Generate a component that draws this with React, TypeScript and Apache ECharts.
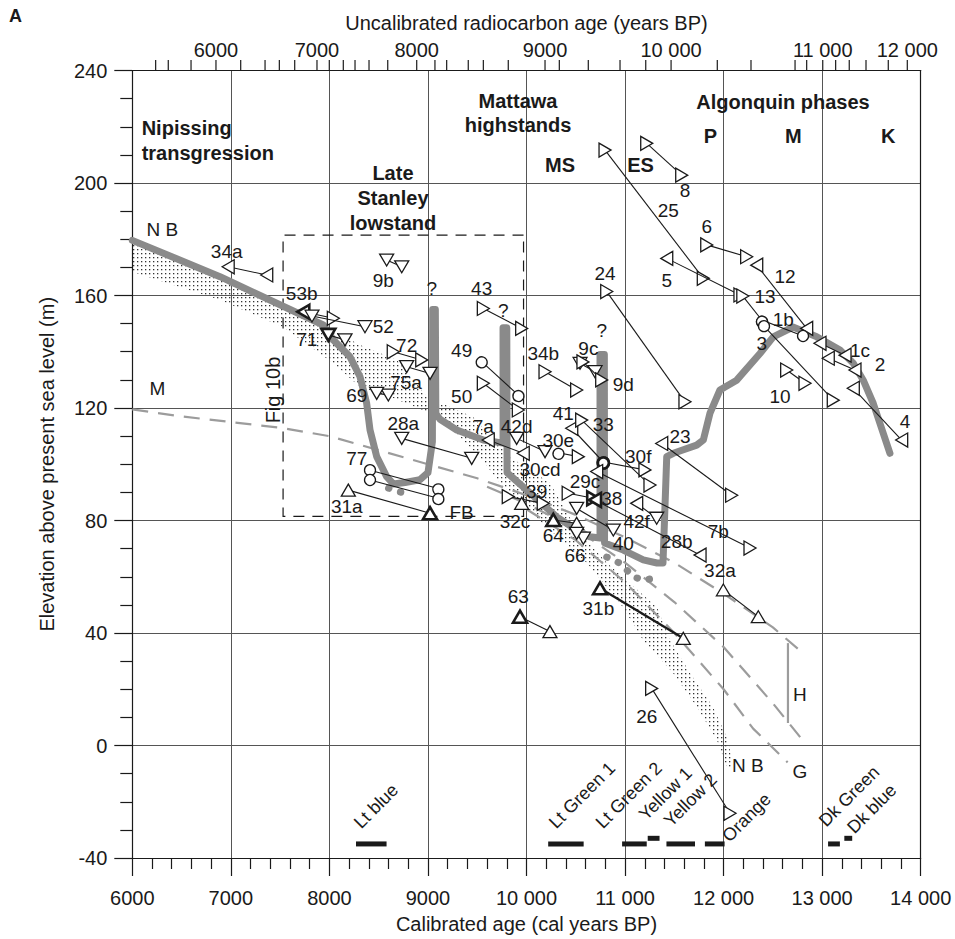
import React, { useEffect, useRef } from "react";
import * as echarts from "echarts";

const FONT = "'Liberation Sans', Arial, Helvetica, sans-serif";
const INK = "#1a1a1a";

// ---- lake level curve (cal yr BP, elevation m)
const lakeCurve: number[][] = [
  [6000, 179.6], [6890, 166.7], [7938, 149.5], [8040, 144.2], [8209, 138.2], [8311, 131.1],
  [8378, 121.7], [8412, 112.2], [8480, 102.7], [8581, 95.6], [8648, 93], [8768, 93.5],
  [8919, 94.5], [9000, 97], [9045, 108], [9048, 155], [9075, 155], [9080, 118],
  [9122, 116], [9292, 112.2], [9562, 108.6], [9762, 107.5], [9762, 148.5], [9800, 148.5],
  [9803, 97], [10035, 89.8], [10306, 81.3], [10509, 76.6], [10644, 74.2], [10746, 73.8],
  [10746, 139], [10790, 139], [10792, 72], [10982, 69.5], [11185, 66], [11324, 64.9],
  [11385, 64.9], [11423, 102.7], [11490, 103.9], [11727, 106.8], [11794, 108.6], [11862, 118.2],
  [11963, 126.4], [12133, 129.9], [12369, 139.4], [12504, 145.3], [12704, 148.8], [12945, 145.3],
  [13181, 140.6], [13316, 135.9], [13417, 129.9], [13519, 121.6], [13688, 103.9],
];
const lowstandDotsA: number[][] = [[8600, 91.5], [8700, 90.2], [8830, 89.5]];
const lowstandDotsB: number[][] = [[10814, 67], [10949, 64.8], [11084, 60], [11185, 58.8], [11287, 59.4]];

// ---- dashed gray curves
const dashedM: number[][] = [
  [6000, 119.5], [6500, 117], [7000, 115], [7500, 113], [8000, 110], [8500, 105], [9000, 100],
  [9500, 95], [10000, 89], [10500, 82], [11000, 74], [11500, 65], [12000, 54], [12500, 42], [12800, 33],
];
const dashedMid: number[][] = [
  [9600, 92], [10000, 86], [10500, 77], [11000, 65], [11500, 51], [12000, 35], [12500, 15], [12800, 2],
];
const dashedG: number[][] = [
  [10000, 84], [10500, 73], [11000, 58], [11500, 40], [12000, 20], [12300, 6], [12650, -6],
];
const lineH: number[][] = [[12653, 36.4], [12653, 8]];

// ---- stippled NB band
const bandUpper: number[][] = [
  [6007, 179.0], [6890, 165.9], [7529, 155.6], [7935, 149.5], [8311, 142.4], [8686, 137.1],
  [8990, 124], [9457, 116.8], [9832, 102.6], [10238, 93.3], [10512, 76.6], [10817, 64.9],
  [11324, 49.2], [11456, 37.5], [11659, 25.8], [11892, 13.7], [12045, 2.0], [12095, -7.6],
];
const bandLower: number[][] = [
  [12034, -7.6], [11932, 2.0], [11730, 13.7], [11487, 25.8], [11182, 37.5], [10979, 49.2],
  [10614, 64.9], [10238, 76.6], [9731, 93.3], [9528, 102.6], [9122, 116.8], [8615, 124],
  [8311, 127.5], [8037, 136], [7529, 148.8], [6890, 158.4], [6007, 168.4],
];

// ---- Fig 10b box [x1, y1, x2, y2]
const figBox = [7530, 81.5, 9970, 181.5];

// ---- dated samples: name, x1, y1, sym1, x2, y2, sym2, thick
const samples: any[][] = [
  ["34a", 6973, 170.2, "L", 7364, 167.3, "L"],
  ["53b", 7735, 154.2, "Lb", 8040, 151.9, "R"],
  ["52", 7823, 152.7, "D", 8361, 148.9, "D"],
  ["71", 7989, 146, "Db", 8158, 144.2, "D"],
  ["9b", 8581, 172.6, "D", 8734, 170.2, "D"],
  ["72", 8648, 140, "R", 8937, 137.1, "R"],
  ["75a", 8784, 134.7, "D", 9021, 132.3, "D"],
  ["69", 8480, 125.2, "D", 8598, 124.6, "D"],
  ["77a", 8412, 97.9, "C", 9105, 91.4, "C"],
  ["77b", 8412, 94.4, "C", 9105, 87.9, "C"],
  ["31a", 8192, 90.8, "U", 9021, 82.6, "Ub"],
  ["28a", 8734, 109.2, "D", 9444, 102.1, "D"],
  ["43", 9562, 155.4, "R", 9951, 148.3, "R"],
  ["49", 9545, 136.5, "C", 9917, 124.6, "C"],
  ["50", 9562, 128.8, "R", 9917, 119.3, "R"],
  ["7a", 9612, 108.6, "L", 9967, 103.9, "L"],
  ["42d", 9900, 109.2, "D", 10188, 104.5, "D"],
  ["30e", 10323, 104.1, "C", 10526, 102.7, "R"],
  ["41", 10459, 112.8, "L", 10779, 100.8, "Cb"],
  ["30f", 10779, 100.8, "Cb", 11202, 98, "R"],
  ["33", 10560, 115.7, "R", 11253, 92.6, "R"],
  ["7b", 10712, 97.4, "L", 12268, 70.2, "R"],
  ["39", 9815, 88.5, "R", 10170, 86.1, "R"],
  ["32c", 9951, 86.1, "U", null, null, null],
  ["29c", 10423, 89.7, "R", 10677, 87.9, "Rb"],
  ["28b", 10695, 87.3, "Lb", 11761, 67.7, "L"],
  ["42f", 11118, 86.1, "L", 11321, 80.8, "D"],
  ["40", 10509, 84.3, "D", 10881, 76.6, "D"],
  ["64", 10272, 80.2, "Ub", 10509, 79, "U"],
  ["66", 10509, 75.4, "D", 10577, 73.7, "D"],
  ["63", 9934, 45.8, "Ub", 10238, 40.5, "U"],
  ["31b", 10746, 55.9, "Ub", 11591, 38.1, "U", 1],
  ["26", 11270, 20.3, "R", 12065, -24.1, "R"],
  ["34b", 10188, 132.9, "R", 10509, 126.4, "R"],
  ["9c", 10543, 135.9, "D", 10695, 132.9, "D"],
  ["9d", 10573, 136.4, "R", 10763, 130, "R"],
  ["24", 10814, 161.4, "R", 11608, 122.2, "R"],
  ["25", 10797, 211.7, "R", 11794, 166.1, "R"],
  ["8", 11220, 214.1, "R", 11575, 202.8, "R"],
  ["6", 11829, 178, "R", 12234, 173.8, "R"],
  ["12", 12336, 170.8, "L", 12843, 148.3, "L"],
  ["5", 11423, 173.2, "L", 12166, 160.2, "R"],
  ["13", 12195, 159.8, "R", 12387, 151.3, "C"],
  ["1b", 12387, 151.3, "C", 12806, 145.6, "C"],
  ["3", 12410, 149.1, "C", 13113, 122.8, "R"],
  ["1c", 12978, 143, "L", 13232, 138.8, "L"],
  ["2", 13062, 137.7, "L", 13333, 133.5, "L"],
  ["10", 12640, 133.5, "R", 12826, 128.8, "R"],
  ["4", 13316, 127, "L", 13807, 108.6, "L"],
  ["23", 11372, 107.4, "L", 12082, 89, "R"],
  ["32a", 11997, 55.3, "U", 12352, 45.8, "U"],
];

// ---- sample number labels [x, y, text]
const sampleLabels: any[][] = [
  [6958, 175.6, "34a"], [7719, 160.8, "53b"], [8547, 148.9, "52"], [7770, 144.2, "71"],
  [8547, 165.5, "9b"], [8784, 142.4, "72"], [8777, 128.9, "75a"], [8277, 124.6, "69"],
  [8277, 102.1, "77"], [8176, 84.9, "31a"], [9342, 82.8, "FB"], [8750, 114.6, "28a"],
  [9545, 162.6, "43"], [9342, 140.6, "49"], [9342, 124, "50"], [9562, 113.3, "7a"],
  [9900, 113.3, "42d"], [10323, 108.6, "30e"], [11134, 102.7, "30f"], [10779, 114, "33"],
  [10374, 118.1, "41"], [10137, 98.2, "30cd"], [10103, 90.4, "39"], [9883, 79.6, "32c"],
  [10594, 93.7, "29c"], [10865, 87.9, "38"], [11118, 79.6, "42f"], [10982, 71.9, "40"],
  [10272, 74.8, "64"], [10492, 67.7, "66"], [9917, 52.9, "63"], [10729, 48.8, "31b"],
  [11220, 10.2, "26"], [10170, 139.4, "34b"], [10628, 141.2, "9c"], [10982, 128.2, "9d"],
  [10797, 167.9, "24"], [11439, 190.4, "25"], [11608, 197.5, "8"], [11829, 184.5, "6"],
  [11423, 165.5, "5"], [12420, 159.6, "13"], [12623, 166.7, "12"], [12606, 151.3, "1b"],
  [12387, 143, "3"], [13384, 140.6, "1c"], [13587, 135.3, "2"], [12572, 124, "10"],
  [13841, 115.1, "4"], [11557, 109.8, "23"], [11946, 76, "7b"], [11524, 72.5, "28b"],
  [11963, 62.4, "32a"], [9038, 162.6, "?"], [9765, 154.8, "?"], [10763, 147.7, "?"],
  [6306, 183.3, "N B"], [6254, 127, "M"], [12247, -7, "N B"], [12775, -9.3, "G"], [12775, 18, "H"],
];

// ---- bold phase labels [x, y, text, align]
const phaseLabels: any[][] = [
  [6095, 219.4, "Nipissing", "left"], [6095, 210.8, "transgression", "left"],
  [8645, 203.5, "Late", "center"], [8645, 194.6, "Stanley", "center"], [8645, 185.8, "lowstand", "center"],
  [9914, 229.3, "Mattawa", "center"], [9914, 220.6, "highstands", "center"],
  [10340, 206.4, "MS", "center"], [11157, 206.4, "ES", "center"],
  [12603, 228.9, "Algonquin phases", "center"], [11867, 216.7, "P", "center"],
  [12707, 216.7, "M", "center"], [13671, 216.7, "K", "center"],
];

// ---- ash / colour zones at bottom [start, end, y]
const zoneBars: number[][] = [
  [8270, 8580, -35], [10220, 10580, -35], [10970, 11220, -35], [11230, 11350, -33],
  [11420, 11710, -35], [11810, 12010, -35], [13060, 13180, -35], [13225, 13305, -33],
];
const zoneLabels: any[][] = [
  [8344, -30.6, "Lt blue"], [10323, -30.6, "Lt Green 1"], [10797, -30.6, "Lt Green 2"],
  [11236, -27.7, "Yellow 1"], [11489, -30, "Yellow 2"], [12082, -35.4, "Orange"],
  [13062, -30, "Dk Green"], [13350, -32.4, "Dk blue"],
];

// ---- top (radiocarbon) axis ticks, positioned in cal yr
const radioTicks: any[][] = [
  [6237, ""], [6365, ""], [6596, ""], [6849, "6000"], [7100, ""], [7347, ""], [7492, ""], [7648, ""],
  [7874, "7000"], [7999, ""], [8141, ""], [8260, ""], [8402, ""], [8592, ""], [8886, "8000"],
  [9071, ""], [9190, ""], [9409, ""], [9562, ""], [9815, ""], [10188, "9000"], [10333, ""],
  [10627, ""], [10949, ""], [11210, ""], [11467, "10 000"], [11936, ""], [12278, ""], [12725, ""],
  [12843, ""], [13006, "11 000"], [13137, ""], [13275, ""], [13445, ""], [13671, ""], [13864, "12 000"],
];

function marker(sym: string, p: number[]) {
  const bold = sym.length > 1;
  const t = sym[0];
  const cx = p[0], cy = p[1];
  const style = { fill: "#fff", stroke: INK, lineWidth: bold ? 2.6 : 1.3 };
  if (t === "C") return { type: "circle", shape: { cx, cy, r: 5.5 }, style };
  const h = 7, w = 6;
  let pts: number[][];
  if (t === "R") pts = [[cx - w, cy - h], [cx + w, cy], [cx - w, cy + h]];
  else if (t === "L") pts = [[cx + w, cy - h], [cx - w, cy], [cx + w, cy + h]];
  else if (t === "U") pts = [[cx - h, cy + w], [cx, cy - w], [cx + h, cy + w]];
  else pts = [[cx - h, cy - w], [cx, cy + w], [cx + h, cy - w]];
  return { type: "polygon", shape: { points: pts }, style };
}

function textSeries(items: any[][], opts: any) {
  return {
    type: "custom",
    coordinateSystem: "cartesian2d",
    clip: false,
    silent: true,
    z: 20,
    data: items.map((i) => [i[0], i[1]]),
    renderItem: (params: any, api: any) => {
      const it = items[params.dataIndex];
      const p = api.coord([it[0], it[1]]);
      return {
        type: "text",
        x: p[0],
        y: p[1],
        rotation: opts.rotation || 0,
        style: {
          text: it[2],
          fontSize: opts.fontSize,
          fontWeight: opts.fontWeight || "normal",
          fontFamily: FONT,
          fill: INK,
          align: it[3] || opts.align || "center",
          verticalAlign: opts.verticalAlign || "middle",
        },
      };
    },
  };
}

export default function App() {
  const ref = useRef<HTMLDivElement>(null);
  useEffect(() => {
    const chart = echarts.init(ref.current!, null, { renderer: "svg" });

    const cv = document.createElement("canvas");
    cv.width = 4;
    cv.height = 4;
    const ctx = cv.getContext("2d")!;
    ctx.fillStyle = "#333";
    ctx.fillRect(1, 1, 1.3, 1.3);
    const dotPattern = { image: cv, repeat: "repeat", imageWidth: 4, imageHeight: 4 };

    const xFmt = (v: number) => (v >= 10000 ? `${Math.round(v / 1000)} 000` : String(v));

    const option: any = {
      animation: false,
      title: {
        text: "A",
        left: 9,
        top: 7,
        padding: 0,
        textStyle: { fontSize: 18, fontWeight: "bold", fontFamily: FONT, color: INK },
      },
      grid: { left: 132.3, right: 34.3, top: 70.5, bottom: 81 },
      xAxis: [
        {
          type: "value",
          min: 6000,
          max: 14000,
          interval: 1000,
          position: "bottom",
          axisLine: { onZero: false, lineStyle: { color: INK, width: 1.2 } },
          axisTick: { show: true, inside: false, length: 18, lineStyle: { color: INK, width: 1.2 } },
          minorTick: { show: true, splitNumber: 5, length: 11, lineStyle: { color: INK, width: 1.2 } },
          axisLabel: { margin: 30, fontSize: 20, color: INK, fontFamily: FONT, formatter: xFmt, showMinLabel: true, showMaxLabel: true },
          splitLine: { show: true, lineStyle: { color: "#555", width: 1 } },
          name: "Calibrated age (cal years BP)",
          nameLocation: "middle",
          nameGap: 56,
          nameTextStyle: { fontSize: 20, color: INK, fontFamily: FONT },
        },
        {
          type: "value",
          min: 6000,
          max: 14000,
          position: "top",
          axisLine: { show: true, onZero: false, lineStyle: { color: INK, width: 1.2 } },
          axisTick: { show: false },
          axisLabel: { show: false },
          splitLine: { show: false },
          name: "Uncalibrated radiocarbon age (years BP)",
          nameLocation: "middle",
          nameGap: 38,
          nameTextStyle: { fontSize: 20, color: INK, fontFamily: FONT },
        },
      ],
      yAxis: [
        {
          type: "value",
          min: -40,
          max: 240,
          interval: 40,
          axisLine: { show: true, onZero: false, lineStyle: { color: INK, width: 1.2 } },
          axisTick: { show: true, inside: false, length: 18, lineStyle: { color: INK, width: 1.2 } },
          minorTick: { show: true, splitNumber: 4, length: 12, lineStyle: { color: INK, width: 1.2 } },
          axisLabel: { margin: 25, fontSize: 20, color: INK, fontFamily: FONT, showMinLabel: true, showMaxLabel: true },
          splitLine: { show: true, lineStyle: { color: "#555", width: 1 } },
          name: "Elevation above present sea level (m)",
          nameLocation: "middle",
          nameGap: 75,
          nameTextStyle: { fontSize: 20, color: INK, fontFamily: FONT },
        },
        {
          type: "value",
          min: -40,
          max: 240,
          position: "right",
          axisLine: { show: true, onZero: false, lineStyle: { color: INK, width: 1.2 } },
          axisTick: { show: false },
          axisLabel: { show: false },
          splitLine: { show: false },
        },
      ],
      series: [
        // stippled band
        {
          type: "custom",
          coordinateSystem: "cartesian2d",
          silent: true,
          z: 1,
          data: [[bandUpper[0][0], bandUpper[0][1]]],
          renderItem: (params: any, api: any) => {
            const pts = bandUpper.concat(bandLower).map((d) => api.coord(d));
            return { type: "polygon", shape: { points: pts }, style: { fill: dotPattern, stroke: "none" } };
          },
        },
        // Fig 10b dashed box
        {
          type: "custom",
          coordinateSystem: "cartesian2d",
          silent: true,
          z: 2,
          data: [[figBox[0], figBox[1]]],
          renderItem: (params: any, api: any) => {
            const a = api.coord([figBox[0], figBox[3]]);
            const b = api.coord([figBox[2], figBox[1]]);
            return {
              type: "polyline",
              shape: { points: [[b[0], a[1]], [a[0], a[1]], [a[0], b[1]], [b[0], b[1]], [b[0], a[1]]] },
              style: { fill: "none", stroke: INK, lineWidth: 1.2, lineDash: [11, 8] },
            };
          },
        },
        ...[dashedM, dashedMid, dashedG].map((d) => ({
          type: "line",
          data: d,
          symbol: "none",
          silent: true,
          z: 3,
          lineStyle: { color: "#9c9c9c", width: 2.2, type: [16, 10] },
        })),
        {
          type: "line",
          data: lineH,
          symbol: "none",
          silent: true,
          z: 3,
          lineStyle: { color: "#9c9c9c", width: 2.2 },
        },
        {
          type: "line",
          data: lakeCurve,
          symbol: "none",
          silent: true,
          z: 4,
          lineStyle: { color: "#8a8a8a", width: 7, join: "round", cap: "round" },
        },
        ...[lowstandDotsA, lowstandDotsB].map((d) => ({
          type: "line",
          data: d,
          symbol: "none",
          silent: true,
          z: 4,
          lineStyle: { color: "#8a8a8a", width: 7, type: [0.5, 12], cap: "round" },
        })),
        // samples
        {
          type: "custom",
          coordinateSystem: "cartesian2d",
          silent: true,
          z: 10,
          data: samples.map((s) => [s[1], s[2]]),
          renderItem: (params: any, api: any) => {
            const s = samples[params.dataIndex];
            const p1 = api.coord([s[1], s[2]]);
            const children: any[] = [];
            if (s[4] != null) {
              const p2 = api.coord([s[4], s[5]]);
              children.push({
                type: "line",
                shape: { x1: p1[0], y1: p1[1], x2: p2[0], y2: p2[1] },
                style: { stroke: INK, lineWidth: s[7] ? 2.4 : 1.1 },
              });
              children.push(marker(s[6], p2));
            }
            children.push(marker(s[3], p1));
            return { type: "group", children };
          },
        },
        // zone bars
        {
          type: "custom",
          coordinateSystem: "cartesian2d",
          silent: true,
          z: 10,
          data: zoneBars.map((b) => [b[0], b[2]]),
          renderItem: (params: any, api: any) => {
            const b = zoneBars[params.dataIndex];
            const a = api.coord([b[0], b[2]]);
            const c = api.coord([b[1], b[2]]);
            return { type: "line", shape: { x1: a[0], y1: a[1], x2: c[0], y2: c[1] }, style: { stroke: INK, lineWidth: 5 } };
          },
        },
        // top radiocarbon axis
        {
          type: "custom",
          coordinateSystem: "cartesian2d",
          clip: false,
          silent: true,
          z: 10,
          data: radioTicks.map((t) => [t[0], 100]),
          renderItem: (params: any, api: any) => {
            const t = radioTicks[params.dataIndex];
            const x = api.coord([t[0], 100])[0];
            const top = params.coordSys.y;
            const children: any[] = [
              { type: "line", shape: { x1: x, y1: top - 10.5, x2: x, y2: top }, style: { stroke: INK, lineWidth: 1.2 } },
            ];
            if (t[1]) {
              children.push({
                type: "text",
                x,
                y: top - 21,
                style: { text: t[1], fontSize: 20, fontFamily: FONT, fill: INK, align: "center", verticalAlign: "middle" },
              });
            }
            return { type: "group", children };
          },
        },
        textSeries(sampleLabels, { fontSize: 19 }),
        textSeries(phaseLabels, { fontSize: 20, fontWeight: "bold" }),
        textSeries([[7431, 126.4, "Fig 10b"]], { fontSize: 20, rotation: Math.PI / 2 }),
        textSeries(zoneLabels, { fontSize: 18, rotation: Math.PI / 4, align: "left", verticalAlign: "bottom" }),
      ],
    };
    chart.setOption(option);
    return () => chart.dispose();
  }, []);
  return (
    <div
      ref={ref}
      style={{ position: "fixed", left: 0, top: 0, width: 955, height: 939, background: "#fff" }}
    />
  );
}
